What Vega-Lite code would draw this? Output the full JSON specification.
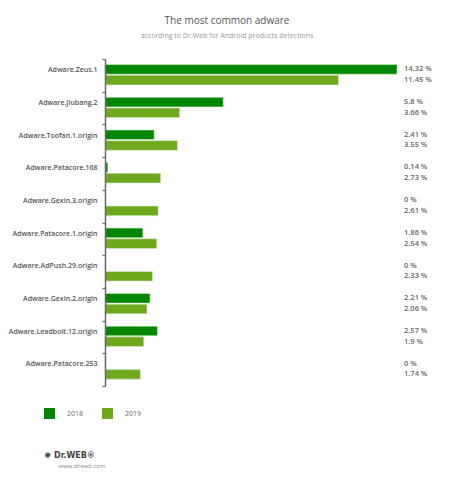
{
  "$schema": "https://vega.github.io/schema/vega-lite/v6.json",
  "autosize": "none",
  "width": 292,
  "height": 327,
  "padding": {"left": 105, "top": 59, "right": 53, "bottom": 91},
  "background": "white",
  "title": {
    "text": "The most common adware",
    "subtitle": "according to Dr.Web for Android products detections",
    "anchor": "middle",
    "frame": "group",
    "dx": -24,
    "offset": 16,
    "font": "Open Sans",
    "fontSize": 10,
    "fontWeight": "normal",
    "color": "#555555",
    "subtitleFont": "Open Sans",
    "subtitleFontSize": 7,
    "subtitleColor": "#999999",
    "subtitlePadding": 6
  },
  "data": {
    "values": [
      {"name": "Adware.Zeus.1", "year": "2018", "value": 14.32},
      {"name": "Adware.Zeus.1", "year": "2019", "value": 11.45},
      {"name": "Adware.Jiubang.2", "year": "2018", "value": 5.8},
      {"name": "Adware.Jiubang.2", "year": "2019", "value": 3.66},
      {"name": "Adware.Toofan.1.origin", "year": "2018", "value": 2.41},
      {"name": "Adware.Toofan.1.origin", "year": "2019", "value": 3.55},
      {"name": "Adware.Patacore.168", "year": "2018", "value": 0.14},
      {"name": "Adware.Patacore.168", "year": "2019", "value": 2.73},
      {"name": "Adware.Gexin.3.origin", "year": "2018", "value": 0},
      {"name": "Adware.Gexin.3.origin", "year": "2019", "value": 2.61},
      {"name": "Adware.Patacore.1.origin", "year": "2018", "value": 1.86},
      {"name": "Adware.Patacore.1.origin", "year": "2019", "value": 2.54},
      {"name": "Adware.AdPush.29.origin", "year": "2018", "value": 0},
      {"name": "Adware.AdPush.29.origin", "year": "2019", "value": 2.33},
      {"name": "Adware.Gexin.2.origin", "year": "2018", "value": 2.21},
      {"name": "Adware.Gexin.2.origin", "year": "2019", "value": 2.06},
      {"name": "Adware.Leadbolt.12.origin", "year": "2018", "value": 2.57},
      {"name": "Adware.Leadbolt.12.origin", "year": "2019", "value": 1.9},
      {"name": "Adware.Patacore.253", "year": "2018", "value": 0},
      {"name": "Adware.Patacore.253", "year": "2019", "value": 1.74}
    ]
  },
  "transform": [{"calculate": "datum.value + ' %'", "as": "label"}],
  "layer": [
    {
      "mark": {"type": "bar", "stroke": "#d8eed0", "strokeWidth": 0.6},
      "encoding": {
        "y": {
          "field": "name",
          "type": "nominal",
          "sort": null,
          "scale": {"paddingInner": 0, "paddingOuter": 0},
          "axis": {
            "title": null,
            "domain": true,
            "ticks": true,
            "zindex": 2,
            "tickBand": "extent",
            "tickSize": 3,
            "tickWidth": 1.3,
            "tickColor": "#6b6b6b",
            "domainColor": "#6b6b6b",
            "domainWidth": 1.5,
            "labelOffset": -5.7,
            "labelPadding": 5,
            "labelFont": "Open Sans",
            "labelFontSize": 7,
            "labelFontWeight": 600,
            "labelColor": "#555555"
          }
        },
        "yOffset": {
          "field": "year",
          "type": "nominal",
          "scale": {"paddingInner": 0.1, "paddingOuter": 0.578, "align": 0.45}
        },
        "x": {
          "field": "value",
          "type": "quantitative",
          "scale": {"domain": [0, 14.32], "nice": false, "zero": true},
          "axis": {
            "orient": "bottom",
            "labels": false,
            "ticks": false,
            "domain": false,
            "grid": false,
            "title": "✺ Dr.WEB®",
            "titleX": -61,
            "titleY": 69,
            "titleAlign": "left",
            "titleAnchor": null,
            "titleAngle": 0,
            "titleBaseline": "middle",
            "titleFont": "DejaVu Sans",
            "titleFontSize": 8,
            "titleFontWeight": "bold",
            "titleColor": "#444444"
          }
        },
        "color": {
          "field": "year",
          "type": "nominal",
          "scale": {"domain": ["2018", "2019"], "range": ["#038703", "#6ea91d"]},
          "legend": {
            "orient": "none",
            "legendX": -61,
            "legendY": 349,
            "direction": "horizontal",
            "title": null,
            "symbolType": "square",
            "symbolSize": 121,
            "symbolStrokeWidth": 0,
            "labelFont": "Open Sans",
            "labelFontSize": 7,
            "labelColor": "#666666",
            "labelOffset": 12,
            "columnPadding": 18
          }
        }
      }
    },
    {
      "mark": {
        "type": "text",
        "align": "left",
        "baseline": "middle",
        "dx": 7,
        "font": "Open Sans",
        "fontSize": 7.5,
        "fontWeight": 600,
        "color": "#666666"
      },
      "encoding": {
        "y": {"field": "name", "type": "nominal", "sort": null},
        "yOffset": {"field": "year", "type": "nominal"},
        "x": {
          "datum": 14.32,
          "type": "quantitative",
          "axis": {
            "orient": "top",
            "labels": false,
            "ticks": false,
            "domain": false,
            "grid": false,
            "title": "www.drweb.com",
            "titleX": -47,
            "titleY": 406,
            "titleAlign": "left",
            "titleAnchor": null,
            "titleAngle": 0,
            "titleBaseline": "middle",
            "titleFont": "Open Sans",
            "titleFontSize": 6,
            "titleFontWeight": "normal",
            "titleColor": "#888888"
          }
        },
        "text": {"field": "label"}
      }
    }
  ],
  "resolve": {"axis": {"x": "independent"}},
  "config": {"view": {"stroke": null}}
}
